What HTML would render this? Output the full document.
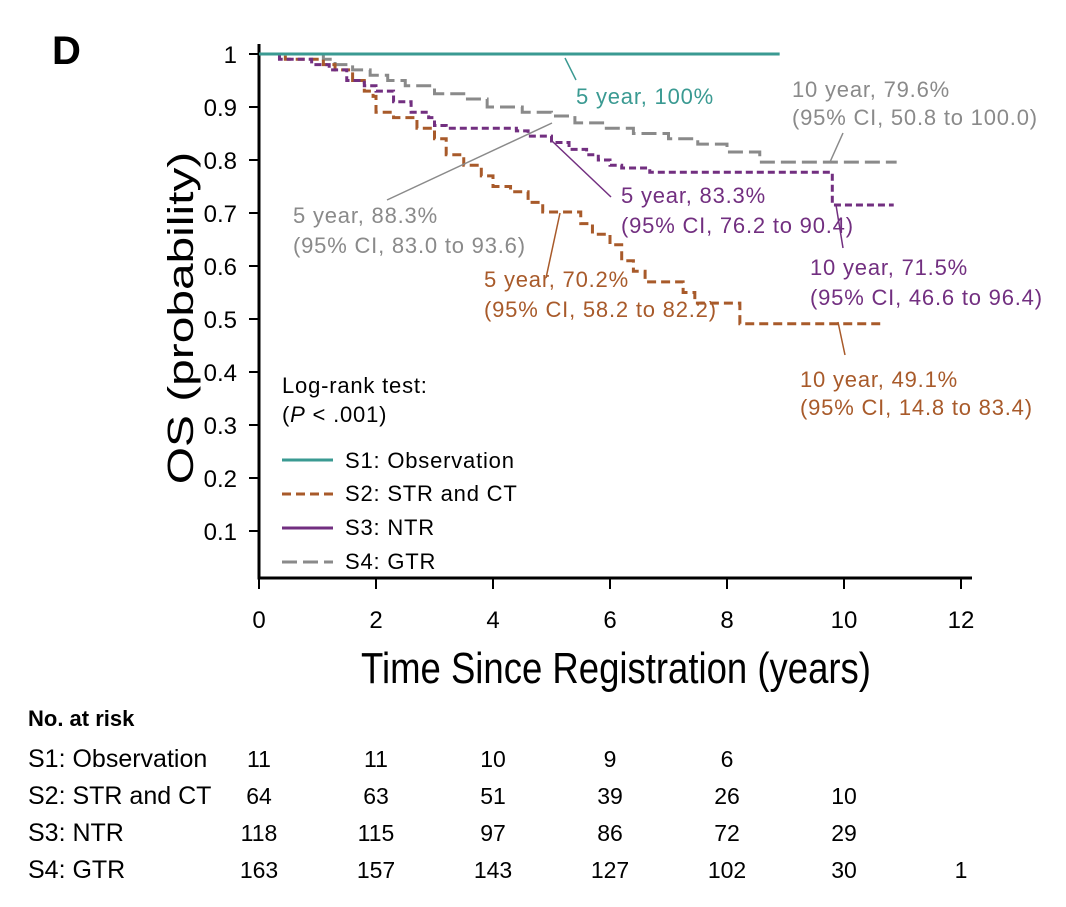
<!DOCTYPE html>
<html><head><meta charset="utf-8"><style>
body{margin:0;background:#fff;}
svg text{font-family:"Liberation Sans",sans-serif;}
</style></head><body>
<svg width="1066" height="902" viewBox="0 0 1066 902" xmlns="http://www.w3.org/2000/svg">
<text x="52" y="64" font-size="40" font-weight="bold">D</text>
<g id="axes"></g>
<g id="curves"></g>
<text transform="translate(193,318) rotate(-90) scale(1.33,1)" text-anchor="middle" font-size="36">OS (probability)</text>
<text transform="translate(616,683) scale(0.83,1)" text-anchor="middle" font-size="44">Time Since Registration (years)</text>
<g font-size="22" letter-spacing="0.8">
<line x1="565" y1="58" x2="576" y2="80" stroke="#3a9a92" stroke-width="1.5"/>
<text x="576" y="104" fill="#3a9a92">5 year, 100%</text>
<line x1="387" y1="200" x2="552" y2="123" stroke="#8a8a8a" stroke-width="1.5"/>
<text x="293" y="223" fill="#8a8a8a">5 year, 88.3%</text>
<text x="293" y="253" fill="#8a8a8a">(95% CI, 83.0 to 93.6)</text>
<line x1="552" y1="141" x2="611" y2="197" stroke="#722f80" stroke-width="1.5"/>
<text x="621" y="203" fill="#722f80">5 year, 83.3%</text>
<text x="621" y="233" fill="#722f80">(95% CI, 76.2 to 90.4)</text>
<line x1="560" y1="213" x2="546" y2="278" stroke="#a85a2a" stroke-width="1.5"/>
<text x="484" y="287" fill="#a85a2a">5 year, 70.2%</text>
<text x="484" y="317" fill="#a85a2a">(95% CI, 58.2 to 82.2)</text>
<line x1="843" y1="133" x2="830" y2="162" stroke="#8a8a8a" stroke-width="1.5"/>
<text x="792" y="97" fill="#8a8a8a">10 year, 79.6%</text>
<text x="792" y="125" fill="#8a8a8a">(95% CI, 50.8 to 100.0)</text>
<line x1="836" y1="205" x2="843" y2="248" stroke="#722f80" stroke-width="1.5"/>
<text x="810" y="275" fill="#722f80">10 year, 71.5%</text>
<text x="810" y="305" fill="#722f80">(95% CI, 46.6 to 96.4)</text>
<line x1="838" y1="322" x2="845" y2="355" stroke="#a85a2a" stroke-width="1.5"/>
<text x="800" y="387" fill="#a85a2a">10 year, 49.1%</text>
<text x="800" y="415" fill="#a85a2a">(95% CI, 14.8 to 83.4)</text>
</g>
<g font-size="22" letter-spacing="0.8">
<text x="282" y="393">Log-rank test:</text>
<text x="282" y="422">(<tspan font-style="italic">P</tspan> &lt; .001)</text>
<line x1="282" y1="460" x2="333" y2="460" stroke="#3a9a92" stroke-width="3"/>
<text x="345" y="468">S1: Observation</text>
<line x1="282" y1="494" x2="333" y2="494" stroke="#a85a2a" stroke-width="3" stroke-dasharray="9,5"/>
<text x="345" y="501">S2: STR and CT</text>
<line x1="282" y1="528" x2="333" y2="528" stroke="#722f80" stroke-width="3"/>
<text x="345" y="535">S3: NTR</text>
<line x1="282" y1="562" x2="333" y2="562" stroke="#8a8a8a" stroke-width="3" stroke-dasharray="15,6"/>
<text x="345" y="569">S4: GTR</text>
</g>
<g id="risk" font-size="23">
<text x="28" y="726" font-weight="bold" font-size="22">No. at risk</text>
</g>
</svg>
<script>
const xTicks=[0,2,4,6,8,10,12];
const yTicks=[0.1,0.2,0.3,0.4,0.5,0.6,0.7,0.8,0.9,1];
const yTickLabels=["0.1","0.2","0.3","0.4","0.5","0.6","0.7","0.8","0.9","1"];
const s1T=[0,8.9];const s1S=[1,1];
const s2T=[0,0.45,1.1,1.3,1.6,1.8,1.95,2.0,2.3,2.7,3.0,3.2,3.5,3.8,4.0,4.3,4.6,4.85,5.3,5.5,5.7,6.0,6.2,6.4,6.6,7.25,7.45,8.22,10.7];
const s2S=[1,0.99,0.98,0.97,0.95,0.93,0.92,0.89,0.88,0.86,0.84,0.81,0.79,0.77,0.75,0.74,0.72,0.702,0.702,0.68,0.66,0.64,0.61,0.59,0.57,0.55,0.53,0.491,0.491];
const s3T=[0,0.35,0.9,1.2,1.5,1.8,2.0,2.3,2.6,2.9,3.0,3.2,4.0,4.4,4.6,5.0,5.3,5.6,5.8,6.0,6.2,6.68,9.8,10.85];
const s3S=[1,0.99,0.98,0.97,0.95,0.94,0.93,0.91,0.89,0.88,0.865,0.86,0.86,0.855,0.845,0.833,0.82,0.81,0.80,0.79,0.785,0.777,0.715,0.715];
const s4T=[0,1.1,1.3,1.6,1.9,2.2,2.5,3.0,3.5,3.9,4.5,5.0,5.4,5.9,6.4,7.0,7.5,8.0,8.56,10.9];
const s4S=[1,0.99,0.98,0.97,0.96,0.95,0.94,0.925,0.915,0.90,0.89,0.883,0.87,0.86,0.85,0.84,0.83,0.815,0.796,0.796];
const riskNames=["S1: Observation","S2: STR and CT","S3: NTR","S4: GTR"];
const risk1=[11,11,10,9,6];const risk2=[64,63,51,39,26,10];
const risk3=[118,115,97,86,72,29];const risk4=[163,157,143,127,102,30,1];
const NS="http://www.w3.org/2000/svg";
const X=t=>259+t*58.5, Y=s=>584-s*530;
function mk(tag,attrs,parent){const e=document.createElementNS(NS,tag);for(const k in attrs)e.setAttribute(k,attrs[k]);parent.appendChild(e);return e;}
const ax=document.getElementById('axes');
let l=mk('line',{x1:259,y1:44,x2:259,y2:579,stroke:'#000','stroke-width':3},ax);


l=mk('line',{x1:257.5,y1:578,x2:972,y2:578,stroke:'#000','stroke-width':3},ax);


yTicks.forEach((v,i)=>{mk('line',{x1:249,y1:Y(v),x2:259,y2:Y(v),stroke:'#000','stroke-width':2},ax);
const t=mk('text',{x:237,y:Y(v)+9,'text-anchor':'end','font-size':24},ax);t.textContent=yTickLabels[i];

});
xTicks.forEach(v=>{mk('line',{x1:X(v),y1:578,x2:X(v),y2:589,stroke:'#000','stroke-width':2},ax);
const t=mk('text',{x:X(v),y:628,'text-anchor':'middle','font-size':24},ax);t.textContent=v;

});
const cv=document.getElementById('curves');
function step(T,S,color,dash,name){let d='M'+X(T[0])+','+Y(S[0]);
for(let i=1;i<T.length;i++){d+=' H'+X(T[i])+' V'+Y(S[i]);}
const p=mk('path',{d:d,fill:'none',stroke:color,'stroke-width':3},cv);if(dash)p.setAttribute('stroke-dasharray',dash);

}
step(s4T,s4S,'#8a8a8a','15,6','curve-s4-gtr');
step(s2T,s2S,'#a85a2a','9,5','curve-s2-str-ct');
step(s3T,s3S,'#722f80','7,4','curve-s3-ntr');
step(s1T,s1S,'#3a9a92',null,'curve-s1-observation');
const rk=document.getElementById('risk');
[risk1,risk2,risk3,risk4].forEach((arr,r)=>{const y=767+r*37;
const n=mk('text',{x:28,y:y,'font-size':25},rk);n.textContent=riskNames[r];


arr.forEach((v,i)=>{const t=mk('text',{x:X(xTicks[i]),y:y,'text-anchor':'middle'},rk);t.textContent=v;

});});
</script>
</body></html>
